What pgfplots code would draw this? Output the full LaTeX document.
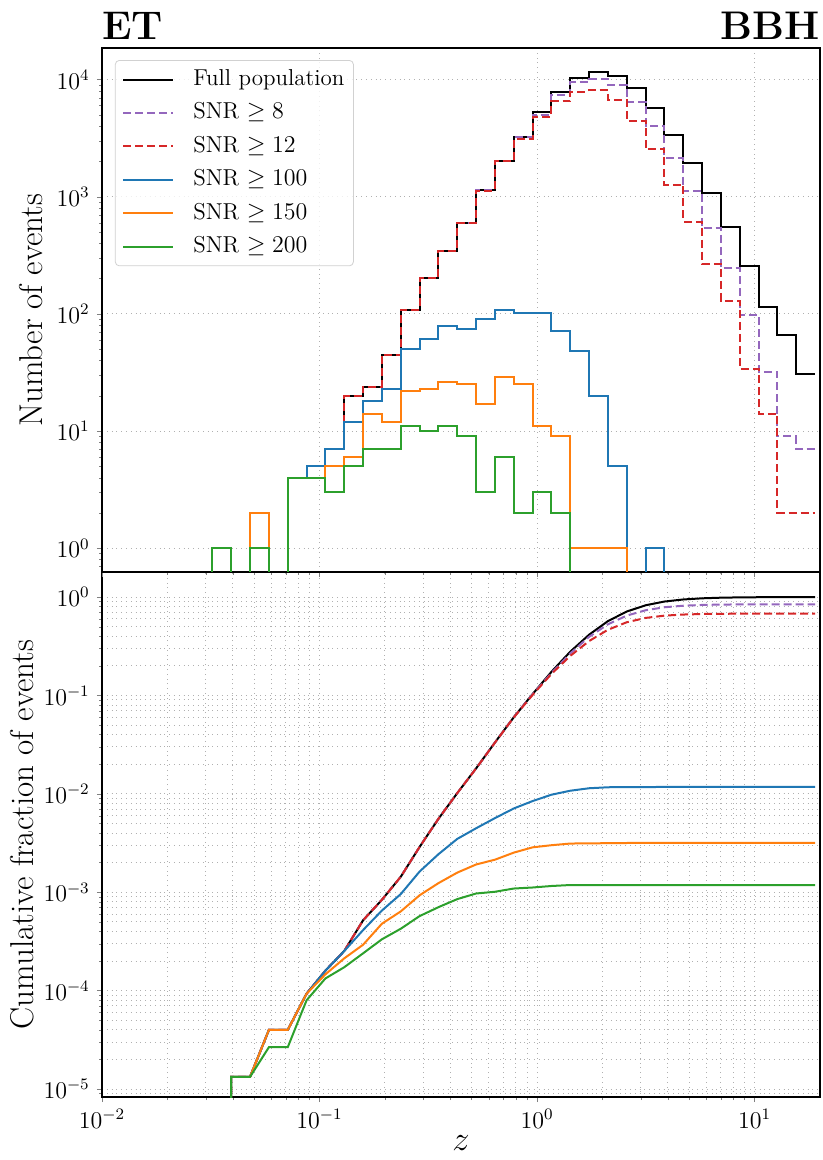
\documentclass[border=0pt]{standalone}
\usepackage{pgfplots}
\pgfplotsset{compat=1.18}
\usepackage{pgfplotstable}

\definecolor{tabblue}{HTML}{1F77B4}
\definecolor{taborange}{HTML}{FF7F0E}
\definecolor{tabgreen}{HTML}{2CA02C}
\definecolor{tabred}{HTML}{D62728}
\definecolor{tabpurple}{HTML}{9467BD}
\definecolor{gridgray}{HTML}{B0B0B0}

% histogram: left bin edge, counts (0.01 stands for an empty bin on the log axis)
\pgfplotstableread{
z        full   snr8   snr12  snrA  snrB  snrC
0.032181 0.01   0.01   0.01   0.01  0.01  0.01
0.032181 1      1      1      1     1     1
0.039282 0.01   0.01   0.01   0.01  0.01  0.01
0.047950 2      2      2      2     2     1
0.058531 0.01   0.01   0.01   0.01  0.01  0.01
0.071447 4      4      4      4     4     4
0.087213 5      5      5      5     4     4
0.10646  7      7      7      7     5     3
0.12995  20     20     20     12    6     5
0.15863  24     24     24     18    14    7
0.19363  45     45     45     23    12    7
0.23636  109    109    109    50    22    11
0.28852  202    202    202    61    23    10
0.35219  346    346    346    79    26    11
0.42991  600    600    598    74    25    9
0.52478  1135   1135   1130   90    17    3
0.64058  2018   2018   2005   108   29    6
0.78194  3250   3230   3120   101   25    2
0.95449  5310   4980   4820   102   11    3
1.16512  7870   7380   6560   72    9     2
1.42223  10230  9570   7870   48    1     0.01
1.73607  11670  10090  8140   20    1     0.01
2.11917  10790  8980   6700   5     1     0.01
2.58680  8410   6470   4450   0.01  0.01  0.01
3.15763  5680   4040   2540   1     0.01  0.01
3.85443  3360   2150   1260   0.01  0.01  0.01
4.70500  1950   1125   612    0.01  0.01  0.01
5.74325  1070   537    267    0.01  0.01  0.01
7.01060  548    245    130    0.01  0.01  0.01
8.55763  256    98     34     0.01  0.01  0.01
10.4461  115    32     14     0.01  0.01  0.01
12.7512  66     9      2      0.01  0.01  0.01
15.5651  31     7      2      0.01  0.01  0.01
18.9999  31     7      2      0.01  0.01  0.01
}\hist

% cumulative fraction at right bin edges
\pgfplotstableread{
z        full       snr8       snr12      snrA        snrB        snrC
0.039282 1e-7       1e-7       1e-7       1e-7        1e-7        1e-7
0.039282 1.331e-5   1.331e-5   1.331e-5   1.331e-5    1.331e-5    1.331e-5
0.047950 1.331e-5   1.331e-5   1.331e-5   1.331e-5    1.331e-5    1.331e-5
0.058531 3.993e-5   3.993e-5   3.993e-5   3.993e-5    3.993e-5    2.662e-5
0.071447 3.993e-5   3.993e-5   3.993e-5   3.993e-5    3.993e-5    2.662e-5
0.087213 9.318e-5   9.318e-5   9.318e-5   9.318e-5    9.318e-5    7.987e-5
0.10646  1.597e-4   1.597e-4   1.597e-4   1.597e-4    1.4642e-4   1.3311e-4
0.12995  2.529e-4   2.529e-4   2.529e-4   2.529e-4    2.1298e-4   1.7305e-4
0.15863  5.191e-4   5.191e-4   5.191e-4   4.127e-4    2.9285e-4   2.3960e-4
0.19363  8.386e-4   8.386e-4   8.386e-4   6.523e-4    4.7921e-4   3.3278e-4
0.23636  1.4376e-3  1.4376e-3  1.4376e-3  9.584e-4    6.3894e-4   4.2596e-4
0.28852  2.8886e-3  2.8886e-3  2.8886e-3  1.6240e-3   9.3179e-4   5.7239e-4
0.35219  5.5774e-3  5.5774e-3  5.5774e-3  2.4360e-3   1.23796e-3  7.0550e-4
0.42991  1.01831e-2 1.01831e-2 1.01831e-2 3.4876e-3   1.58405e-3  8.5192e-4
0.52478  1.81700e-2 1.81700e-2 1.8143e-2  4.4726e-3   1.91683e-3  9.7173e-4
0.64058  3.3278e-2  3.3278e-2  3.3185e-2  5.6706e-3   2.14312e-3  1.01166e-3
0.78194  6.0141e-2  6.0141e-2  5.9874e-2  7.1082e-3   2.52915e-3  1.09153e-3
0.95449  0.10340    0.10314    0.10141    8.4527e-3   2.86194e-3  1.11815e-3
1.16512  0.17409    0.16943    0.16557    9.8105e-3   3.00836e-3  1.15808e-3
1.42223  0.27885    0.26766    0.25289    1.07689e-2  3.12816e-3  1.18471e-3
1.73607  0.41502    0.39505    0.35765    1.14078e-2  3.14147e-3  1.18471e-3
2.11917  0.57036    0.52936    0.46600    1.16740e-2  3.15478e-3  1.18471e-3
2.58680  0.71399    0.64890    0.55519    1.17406e-2  3.16810e-3  1.18471e-3
3.15763  0.82594    0.73502    0.61442    1.17406e-2  3.16810e-3  1.18471e-3
3.85443  0.90155    0.78880    0.64823    1.17539e-2  3.16810e-3  1.18471e-3
4.70500  0.94628    0.81742    0.66500    1.17539e-2  3.16810e-3  1.18471e-3
5.74325  0.97223    0.83240    0.67315    1.17539e-2  3.16810e-3  1.18471e-3
7.01060  0.98648    0.83955    0.67670    1.17539e-2  3.16810e-3  1.18471e-3
8.55763  0.99377    0.84281    0.67843    1.17539e-2  3.16810e-3  1.18471e-3
10.4461  0.99718    0.84412    0.67889    1.17539e-2  3.16810e-3  1.18471e-3
12.7512  0.99871    0.84454    0.67908    1.17539e-2  3.16810e-3  1.18471e-3
15.5651  0.99959    0.84466    0.67911    1.17539e-2  3.16810e-3  1.18471e-3
18.9999  1.0        0.84475    0.67913    1.17539e-2  3.16810e-3  1.18471e-3
}\cum

\tikzset{
  hl/.style={const plot mark left, line width=1pt},
  cl/.style={line width=1pt},
  dsh/.style={dash pattern=on 4pt off 2pt},
}

\begin{document}
\begin{tikzpicture}
\useasboundingbox (-51pt,-31.5pt) rectangle (360.5pt,548.5pt);
% bottom panel
\begin{loglogaxis}[name=bot, at={(0pt,0pt)}, anchor=south west,
  scale only axis, width=359pt, height=262.5pt,
  xmin=0.01, xmax=20, ymin=8.3e-6, ymax=1.8,
  tick align=outside, xtick pos=left, ytick pos=left,
  major tick length=2.6pt, minor tick length=1.5pt,
  axis line style={line width=0.7pt},
  tick label style={font=\fontsize{11.5}{13.8}\selectfont},
  xlabel style={font=\fontsize{16.5}{19.8}\selectfont, yshift=3pt},
  ylabel style={font=\fontsize{16.5}{19.8}\selectfont, yshift=-2pt},
  major grid style={gridgray, dotted, line width=0.5pt},
  minor grid style={gridgray, dotted, line width=0.5pt},
  grid=both,
  xlabel={$z$}, ylabel={Cumulative fraction of events}]
\addplot[cl, no marks, black] table[x=z, y=full] {\cum};
\addplot[cl, no marks, tabpurple, dsh] table[x=z, y=snr8] {\cum};
\addplot[cl, no marks, tabred, dsh] table[x=z, y=snr12] {\cum};
\addplot[cl, no marks, tabblue] table[x=z, y=snrA] {\cum};
\addplot[cl, no marks, taborange] table[x=z, y=snrB] {\cum};
\addplot[cl, no marks, tabgreen] table[x=z, y=snrC] {\cum};
\end{loglogaxis}
% top panel
\begin{loglogaxis}[name=top, at={(0pt,262.5pt)}, anchor=south west,
  scale only axis, width=359pt, height=262pt,
  xmin=0.01, xmax=20, ymin=0.628, ymax=1.86e4,
  tick align=outside, xtick pos=left, ytick pos=left,
  major tick length=2.6pt, minor tick length=1.5pt,
  axis line style={line width=0.7pt},
  tick label style={font=\fontsize{11.5}{13.8}\selectfont},
  ylabel style={font=\fontsize{16.5}{19.8}\selectfont},
  major grid style={gridgray, dotted, line width=0.5pt},
  grid=major,
  xticklabels={}, ylabel={Number of events},
  legend cell align=left,
  legend image code/.code={\draw[#1] (0pt,0pt) -- (25pt,0pt); \path[draw=none] (0pt,0pt) -- (34pt,0pt);},
  legend style={at={(0.018,0.977)}, anchor=north west,
    draw=black!18, fill=white, fill opacity=0.8, text opacity=1,
    rounded corners=2pt, inner xsep=3.5pt, inner ysep=3pt,
    font=\fontsize{11.5}{13.8}\selectfont, row sep=3.5pt,
    nodes={inner sep=1pt, text height=8.5pt, text depth=2.7pt}}]
\addplot[hl, no marks, black] table[x=z, y=full] {\hist};
\addlegendentry{Full population}
\addplot[hl, no marks, tabpurple, dsh] table[x=z, y=snr8] {\hist};
\addlegendentry{SNR $\geq 8$}
\addplot[hl, no marks, tabred, dsh] table[x=z, y=snr12] {\hist};
\addlegendentry{SNR $\geq 12$}
\addplot[hl, no marks, tabblue] table[x=z, y=snrA] {\hist};
\addlegendentry{SNR $\geq 100$}
\addplot[hl, no marks, taborange] table[x=z, y=snrB] {\hist};
\addlegendentry{SNR $\geq 150$}
\addplot[hl, no marks, tabgreen] table[x=z, y=snrC] {\hist};
\addlegendentry{SNR $\geq 200$}
\end{loglogaxis}
\node[anchor=base west, inner sep=0pt, font=\fontsize{20}{24}\selectfont\bfseries] at ([yshift=4pt]top.north west) {ET};
\node[anchor=base east, inner sep=0pt, font=\fontsize{20}{24}\selectfont\bfseries] at ([yshift=4pt]top.north east) {BBH};
\end{tikzpicture}
\end{document}
